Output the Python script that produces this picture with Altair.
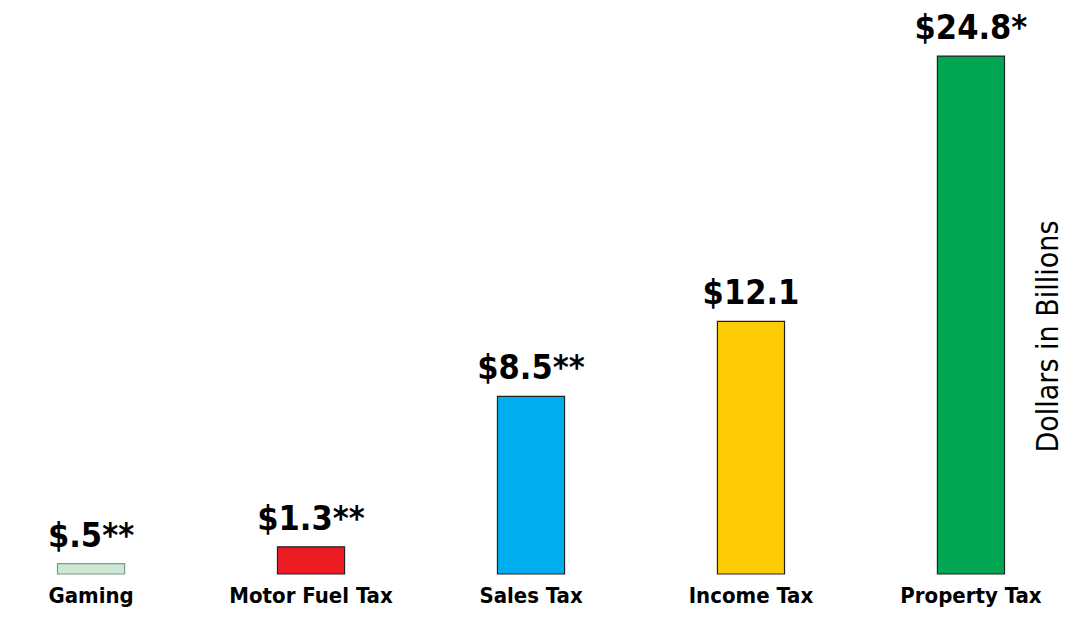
import altair as alt
import pandas as pd

categories = ["Gaming", "Motor Fuel Tax", "Sales Tax", "Income Tax", "Property Tax"]
values = [0.5, 1.3, 8.5, 12.1, 24.8]
value_labels = ["$.5**", "$1.3**", "$8.5**", "$12.1", "$24.8*"]
colors = ["#cde7d5", "#ed1c24", "#00aeef", "#ffcb05", "#00a651"]
strokes = ["#7f9a88", "#222222", "#222222", "#222222", "#222222"]

df = pd.DataFrame({"category": categories, "value": values, "label": value_labels})

FONT = "'DejaVu Sans Condensed', 'Roboto Condensed', Roboto, sans-serif"

x = alt.X(
    "category:N",
    sort=categories,
    scale=alt.Scale(paddingInner=0.695, paddingOuter=0.225),
    axis=alt.Axis(
        title=None, labelAngle=0, domain=False, ticks=False, labelPadding=11,
        labelFont=FONT, labelFontSize=22, labelFontWeight="bold", labelColor="#000000",
    ),
)
y = alt.Y(
    "value:Q",
    scale=alt.Scale(domain=[0, 27.1], nice=False, zero=True),
    axis=alt.Axis(
        orient="right", title="Dollars in Billions", labels=False, ticks=False,
        domain=False, grid=False, titleFont=FONT, titleFontSize=30,
        titleFontWeight="normal", titleColor="#000000", titleAngle=270,
        titleX=3, titleY=328, titleAlign="center", titleBaseline="alphabetic",
    ),
)

bars = alt.Chart(df).mark_bar(strokeWidth=1.2).encode(
    x=x,
    y=y,
    fill=alt.Fill("category:N", scale=alt.Scale(domain=categories, range=colors), legend=None),
    stroke=alt.Stroke("category:N", scale=alt.Scale(domain=categories, range=strokes), legend=None),
)

labels = alt.Chart(df).mark_text(
    font=FONT, fontSize=34, fontWeight="bold", baseline="alphabetic", dy=-17, color="#000000"
).encode(
    x=alt.X("category:N", sort=categories),
    y=alt.Y("value:Q"),
    text="label:N",
)

chart = (
    alt.layer(bars, labels)
    .properties(
        width=1046, height=566, background="white",
        autosize=alt.AutoSizeParams(type="none"),
        padding={"left": 0, "top": 0, "right": 11, "bottom": 37},
    )
    .configure_view(stroke=None, strokeWidth=0)
)

chart.save("out.html", embed_options={"renderer": "svg", "actions": False})
